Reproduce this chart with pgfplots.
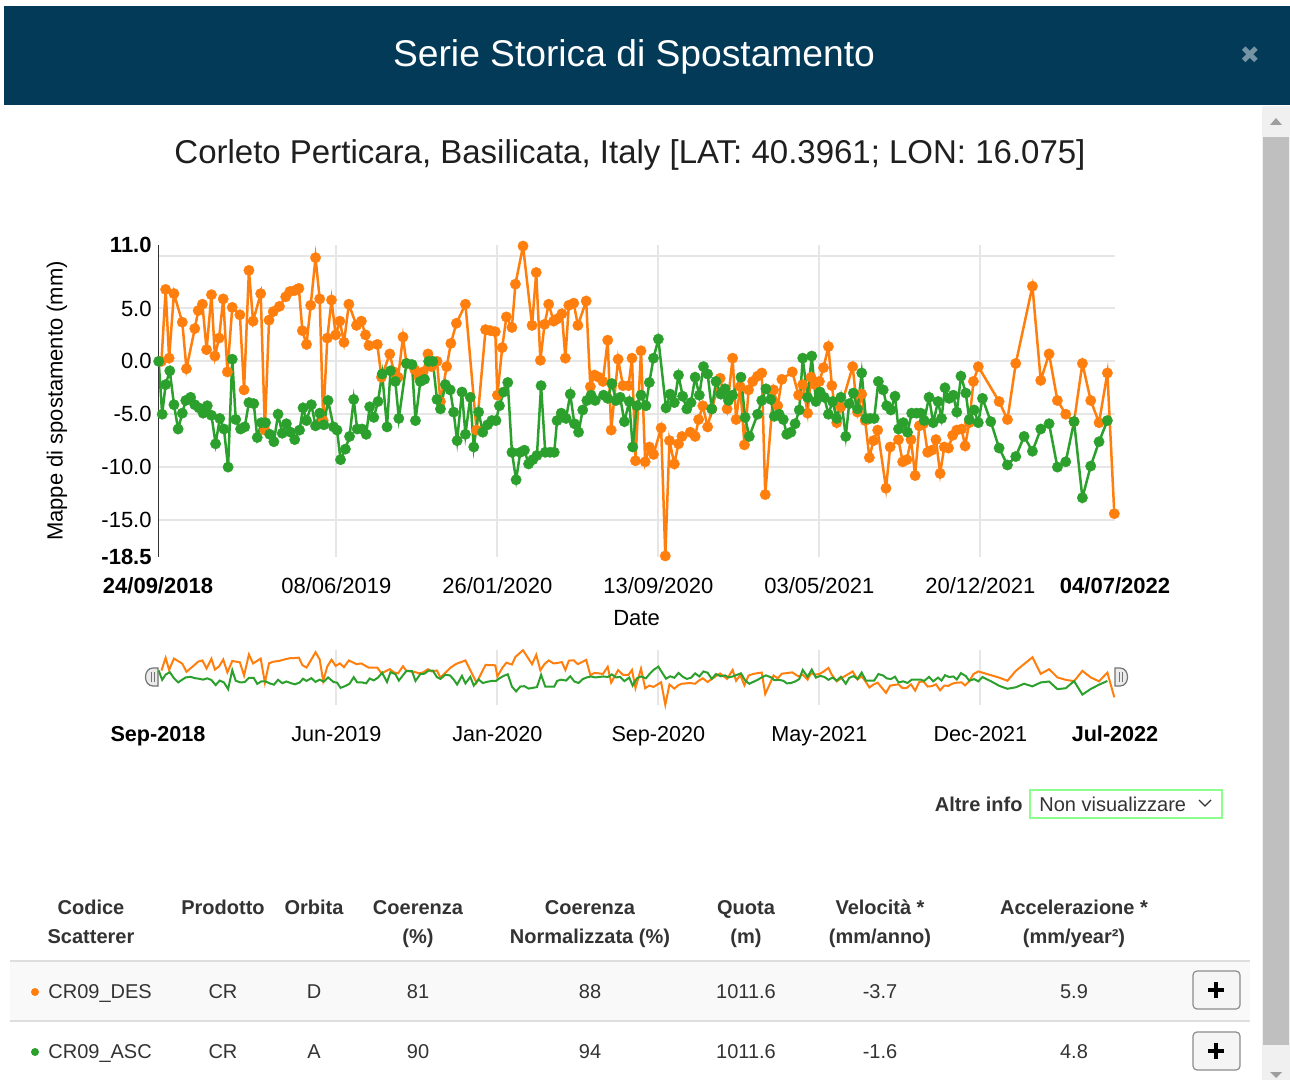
\documentclass[border=0pt]{standalone}
\usepackage{fontspec}
\setmainfont{Liberation Sans}
\newfontfamily\dejavu{DejaVu Sans}
\usepackage{pgfplots}
\usepackage{pgfplotstable}
\pgfplotsset{compat=1.18}

\definecolor{des}{HTML}{FF7F0E}
\definecolor{asc}{HTML}{2CA02C}
\definecolor{hdr}{HTML}{023A57}
\definecolor{gridc}{HTML}{E6E6E6}
\definecolor{txt}{HTML}{333333}
\newcommand\fs[1]{\fontsize{#1}{#1}\selectfont}

% days since 24/09/2018, displacement in mm
\pgfplotstableread{
day val
5 0.0
11 6.8
16 0.3
23 6.4
35 3.7
41 -0.7
53 3.1
58 4.8
64 5.4
70 1.1
77 6.3
82 0.5
88 2.2
94 5.9
100 -1.0
107 5.1
118 4.4
124 -2.7
131 8.6
137 3.8
148 6.4
154 -6.5
160 3.9
166 4.7
175 5.2
184 6.1
190 6.6
197 6.7
203 6.9
208 2.9
214 1.6
220 5.3
227 9.8
233 5.9
238 -5.6
244 2.2
250 5.8
256 2.5
262 3.8
268 1.8
275 5.4
286 3.4
293 3.8
299 2.5
304 1.5
316 1.6
322 -1.5
334 0.7
340 -1.0
346 -1.5
353 2.3
358 -0.2
370 -0.8
376 -1.5
382 -1.0
389 0.7
394 -0.5
402 0.0
407 -3.8
416 -0.5
422 1.7
430 3.6
443 5.4
459 -6.5
472 3.0
479 2.9
486 2.8
489 -3.2
496 1.3
502 4.2
510 3.2
515 7.3
526 10.9
539 3.4
545 8.4
551 0.1
557 3.5
563 5.4
570 3.8
575 4.0
582 4.5
587 0.3
592 5.3
599 5.5
605 3.4
617 5.7
623 -2.4
629 -1.3
635 -1.5
641 -1.9
648 2.0
653 -6.5
663 0.2
670 -2.3
678 -2.3
683 0.3
688 -9.4
696 1.0
702 -9.5
708 -8.1
714 -8.8
725 -6.3
731 -18.4
737 -7.5
744 -9.7
750 -7.8
755 -7.1
767 -6.7
774 -7.1
779 -5.5
785 -4.2
792 -6.2
798 -4.5
810 -1.6
820 -4.5
828 0.3
833 -5.5
839 -2.4
845 -7.9
851 -2.7
857 -1.9
864 -1.4
870 -1.1
875 -12.6
887 -2.7
893 -4.2
899 -1.7
914 -1.0
923 -3.2
929 -2.2
936 -4.9
941 -1.5
947 -2.2
953 -1.9
959 -0.6
966 1.4
971 -2.3
978 -5.8
984 -4.3
1001 -0.5
1008 -4.8
1014 -3.1
1019 -5.6
1025 -9.1
1031 -7.5
1037 -6.5
1049 -12.0
1055 -8.1
1067 -7.4
1073 -9.5
1079 -9.3
1085 -7.4
1091 -10.8
1097 -6.1
1103 -5.9
1109 -8.6
1115 -8.4
1121 -7.4
1127 -10.6
1133 -8.1
1139 -8.2
1145 -7.0
1151 -6.5
1158 -6.4
1163 -8.0
1169 -5.8
1175 -1.9
1182 -0.5
1212 -3.8
1224 -5.5
1236 -0.2
1260 7.1
1272 -1.8
1284 0.7
1296 -3.7
1308 -5.0
1320 -5.7
1332 -0.2
1344 -3.7
1356 -5.8
1368 -1.1
1378 -14.4
}\desdata

\pgfplotstableread{
day val
1 0.0
6 -5.0
11 -2.2
17 -0.9
23 -4.1
29 -6.4
35 -4.9
40 -3.7
47 -3.4
53 -4.1
59 -4.4
65 -4.9
71 -4.2
77 -5.1
83 -7.8
89 -5.4
95 -6.4
101 -10.0
107 0.2
112 -5.5
119 -6.4
125 -6.2
131 -3.9
138 -4.0
143 -7.2
149 -5.8
155 -5.8
161 -6.9
167 -7.6
173 -5.0
179 -6.8
185 -5.9
191 -6.7
197 -7.4
204 -6.5
209 -4.4
214 -5.6
221 -4.1
227 -6.1
233 -4.9
239 -6.0
245 -3.7
253 -6.2
258 -6.5
263 -9.3
270 -8.3
276 -7.1
282 -3.6
287 -6.4
294 -6.4
300 -6.9
305 -4.3
311 -5.3
317 -3.8
323 -1.2
330 -6.2
335 -0.9
342 -1.9
347 -5.4
358 -0.2
366 -0.3
371 -5.6
378 -1.9
384 -1.7
390 0.0
396 0.0
402 -3.6
407 -4.5
414 -2.2
421 -2.7
426 -4.8
431 -7.5
438 -2.9
443 -6.9
450 -3.4
455 -8.1
462 -4.8
468 -6.7
475 -6.0
481 -5.6
487 -5.6
492 -4.2
498 -2.9
504 -2.0
510 -8.6
516 -11.2
522 -8.6
528 -8.4
534 -9.7
540 -9.3
546 -8.9
552 -2.3
558 -8.6
565 -8.6
571 -8.6
575 -5.6
581 -4.9
588 -5.4
594 -3.1
600 -5.9
606 -6.7
612 -4.6
618 -3.7
624 -3.2
630 -3.7
642 -3.2
648 -3.5
654 -2.1
660 -3.7
666 -3.4
672 -5.7
679 -3.8
684 -8.1
690 -4.2
696 -3.2
703 -4.2
708 -2.0
714 0.3
721 2.1
732 -4.4
738 -3.1
744 -3.9
750 -1.3
756 -3.3
762 -4.5
768 -3.9
774 -1.5
780 -3.2
786 -0.5
792 -1.2
798 -4.5
804 -1.9
811 -3.1
817 -2.6
822 -3.7
828 -3.2
840 -1.5
846 -5.3
852 -7.1
864 -5.0
870 -3.7
876 -2.6
883 -3.6
888 -5.2
895 -5.0
901 -5.5
906 -6.9
912 -6.7
918 -5.9
924 -4.6
929 0.3
936 -3.4
942 0.5
948 -3.8
954 -2.9
960 -3.4
966 -5.0
972 -3.8
978 -5.4
984 -3.4
991 -7.1
996 -4.0
1002 -3.0
1008 -4.5
1014 -1.1
1020 -5.4
1026 -5.4
1032 -5.4
1038 -1.9
1045 -2.7
1050 -4.2
1056 -4.6
1062 -3.3
1067 -6.4
1074 -5.8
1080 -6.7
1086 -4.9
1093 -4.9
1099 -4.9
1104 -5.6
1111 -3.4
1117 -5.8
1124 -3.8
1129 -5.4
1134 -2.5
1140 -3.5
1146 -3.2
1151 -4.8
1157 -1.4
1164 -3.0
1169 -5.5
1176 -4.6
1182 -5.8
1188 -3.5
1200 -5.7
1212 -8.2
1224 -9.8
1236 -9.0
1248 -7.1
1260 -8.5
1272 -6.4
1284 -5.9
1296 -10.0
1308 -9.5
1320 -5.7
1332 -12.9
1344 -9.9
1356 -7.6
1368 -5.6
}\ascdata

\begin{document}
\begin{tikzpicture}
% page frame in screen pixels (1 px = 0.5pt, y downwards)
\begin{scope}[x=0.5pt,y=-0.5pt]
  \path[use as bounding box, fill=white] (0,0) rectangle (1290,1080);
  % header
  \fill[hdr] (4,6) rectangle (1290,105);
  \node[anchor=base, text=white, font=\fs{18.6}] at (634,67) {Serie Storica di Spostamento};
  \node[text=hdr!55!white, font=\dejavu\fs{12}] at (1250,55) {✖};
  % scrollbar
  \fill[black!6] (1262,106) rectangle (1290,1080);
  \fill[black!25] (1263,137) rectangle (1289,1045);
  \fill[black!38] (1270,125) -- (1282,125) -- (1276,118) -- cycle;
  \fill[black!38] (1270,1072) -- (1282,1072) -- (1276,1078) -- cycle;
  % subtitle
  \node[anchor=base, text=black!88, font=\fs{16.5}] at (630,164)
    {Corleto Perticara, Basilicata, Italy [LAT: 40.3961; LON: 16.075]};
  % navigator handles
  \filldraw[fill=black!8, draw=black!55, line width=0.6pt]
    (158,668) -- (153,668) .. controls (143,668) and (143,686) .. (153,686) -- (158,686) -- cycle;
  \draw[black!55, line width=0.5pt] (151,672) -- (151,682) (154,672) -- (154,682);
  \filldraw[fill=black!8, draw=black!55, line width=0.6pt]
    (1115,668) -- (1120,668) .. controls (1130,668) and (1130,686) .. (1120,686) -- (1115,686) -- cycle;
  \draw[black!55, line width=0.5pt] (1119,672) -- (1119,682) (1122,672) -- (1122,682);
  % altre info
  \node[anchor=base east, inner sep=0pt, text=txt, font=\bfseries\fs{10}] at (1023,811) {Altre info};
  \draw[green!45!white, line width=0.7pt, fill=white] (1030,790) rectangle (1222,818);
  \node[anchor=base west, inner sep=0pt, text=txt, font=\fs{10}] at (1039,811) {Non visualizzare};
  \draw[txt, line width=0.6pt] (1199,800) -- (1205,806) -- (1211,800);
  % table
  \begin{scope}[every node/.style={anchor=base, inner sep=0pt, text=txt, font=\fs{10}}]
    \foreach \cx/\la/\lb in {91/Codice/Scatterer, 223/Prodotto/, 314/Orbita/,
        418/Coerenza/(\%), 590/Coerenza/Normalizzata (\%), 746/Quota/(m),
        880/{Velocità *}/{(mm/anno)}, 1074/{Accelerazione *}/{(mm/year²)}} {
      \node[font=\bfseries\fs{10}] at (\cx,914) {\la};
      \node[font=\bfseries\fs{10}] at (\cx,943) {\lb};
    }
    \fill[black!2.5] (10,962) rectangle (1250,1020);
    \draw[black!13, line width=1.2pt] (10,961) -- (1250,961);
    \draw[black!13, line width=0.6pt] (10,1021) -- (1250,1021);
    \fill[des] (35,992) circle (4);
    \fill[asc] (35,1052) circle (4);
    \node[anchor=base west] at (48,998) {CR09\_DES};
    \node[anchor=base west] at (48,1058) {CR09\_ASC};
    \foreach \cx/\va/\vb in {223/CR/CR, 314/D/A, 418/81/90, 590/88/94,
        746/1011.6/1011.6, 880/-3.7/-1.6, 1074/5.9/4.8} {
      \node at (\cx,998) {\va};
      \node at (\cx,1058) {\vb};
    }
    \foreach \by in {971,1032} {
      \filldraw[fill=black!4, draw=black!45, line width=0.6pt, rounded corners=2pt]
        (1193,\by) rectangle (1240,\by+38);
      \draw[black, line width=2pt] (1208,\by+19) -- (1224,\by+19)
        (1216,\by+11) -- (1216,\by+27);
    }
  \end{scope}
\end{scope}

% main chart
\begin{axis}[
  at={(79pt,-278.5pt)}, anchor=south west,
  scale only axis, width=478.5pt, height=156pt,
  xmin=0, xmax=1379, ymin=-18.5, ymax=11,
  axis line style={draw=none},
  major tick length=0pt,
  xtick={257,489,721,953,1185},
  xticklabels={08/06/2019,26/01/2020,13/09/2020,03/05/2021,20/12/2021},
  extra x ticks={0,1379},
  extra x tick labels={\textbf{24/09/2018},\textbf{04/07/2022}},
  extra x tick style={grid=none},
  ytick={-15,-10,-5,0,5,10},
  yticklabels={-15.0,-10.0,-5.0,0.0,5.0,{}},
  extra y ticks={-18.5,11},
  extra y tick labels={\textbf{-18.5},\textbf{11.0}},
  extra y tick style={grid=none},
  grid=major,
  major grid style={draw=gridc, line width=1pt},
  xticklabel style={anchor=base, yshift=-18pt, inner sep=0pt, font=\fs{11}, text=black},
  yticklabel style={anchor=east, xshift=-3pt, inner sep=0pt, font=\fs{11}, text=black},
  ylabel={Mappe di spostamento (mm)},
  ylabel style={at={(axis description cs:-0.1055,0.5)}, anchor=center, font=\fs{11}, text=black},
  xlabel={Date},
  xlabel style={at={(axis description cs:0.5,0)}, anchor=base, yshift=-34pt, font=\fs{11}, text=black},
]
\addplot[des, line width=1.25pt, mark=*, mark size=2.6pt,
  mark options={fill=des, draw=des, line width=0.2pt}] table[x=day, y=val] {\desdata};
\addplot[asc, line width=1.25pt, mark=*, mark size=2.6pt,
  mark options={fill=asc, draw=asc, line width=0.2pt}] table[x=day, y=val] {\ascdata};
\draw[txt, line width=0.8pt] (rel axis cs:0,0) -- (rel axis cs:0,1);
\end{axis}

% navigator
\begin{axis}[
  at={(79pt,-352.5pt)}, anchor=south west,
  scale only axis, width=478.5pt, height=27.5pt,
  xmin=0, xmax=1379, ymin=-18.5, ymax=11,
  axis line style={draw=none},
  major tick length=0pt,
  ytick=\empty,
  xtick={257,489,721,953,1185},
  xticklabels={Jun-2019,Jan-2020,Sep-2020,May-2021,Dec-2021},
  extra x ticks={0,1379},
  extra x tick labels={\textbf{Sep-2018},\textbf{Jul-2022}},
  extra x tick style={grid=none},
  xmajorgrids,
  major grid style={draw=gridc, line width=1pt},
  xticklabel style={anchor=base, yshift=-18pt, inner sep=0pt, font=\fs{10.8}, text=black},
  clip=false,
]
\addplot[des, line width=1pt] table[x=day, y=val] {\desdata};
\addplot[asc, line width=1pt] table[x=day, y=val] {\ascdata};
\end{axis}
\end{tikzpicture}
\end{document}
